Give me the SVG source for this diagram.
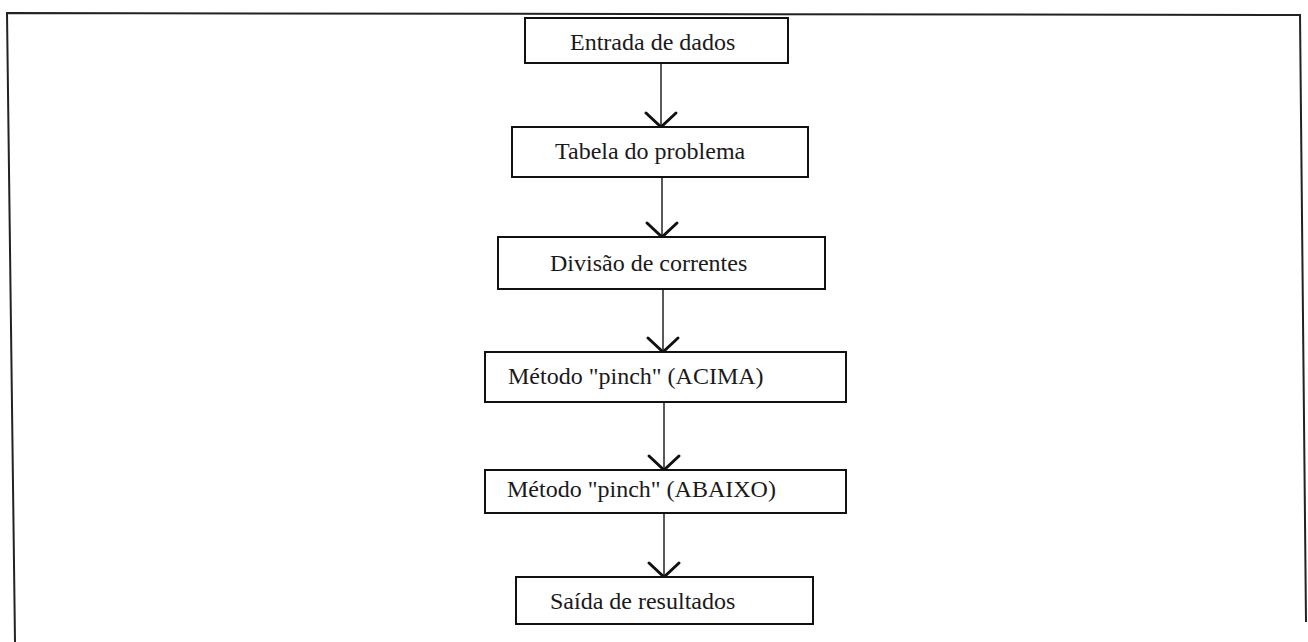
<svg xmlns="http://www.w3.org/2000/svg" width="1308" height="642" viewBox="0 0 1308 642">
<defs>
<style>
.box{fill:#fff;stroke:#111;stroke-width:2}
.lbl{font-family:"Liberation Serif","Times New Roman",serif;font-size:24px;fill:#1a1a1a}
.frame{fill:none;stroke:#222;stroke-width:2}
.conn{stroke:#222;stroke-width:1.5;fill:none}
.head{stroke:#111;stroke-width:3;fill:none;stroke-linecap:round}
</style>
</defs>
<rect width="1308" height="642" fill="#fff"/>
<path class="frame" d="M15 642 L7 13 L1300 15 L1306 622"/>
<g id="connectors">
<line class="conn" x1="661" y1="63" x2="661" y2="127"/>
<polyline class="head" points="646,113 661,127 676,113"/>
<line class="conn" x1="662" y1="177" x2="662" y2="237"/>
<polyline class="head" points="647,223 662,237 677,223"/>
<line class="conn" x1="663" y1="289" x2="663" y2="352"/>
<polyline class="head" points="648,338 663,352 678,338"/>
<line class="conn" x1="664" y1="402" x2="664" y2="470"/>
<polyline class="head" points="649,456 664,470 679,456"/>
<line class="conn" x1="664" y1="513" x2="664" y2="577"/>
<polyline class="head" points="649,563 664,577 679,563"/>
</g>
<g id="n1"><rect class="box" x="525" y="18" width="263" height="45"/><text class="lbl" x="570" y="50">Entrada de dados</text></g>
<g id="n2"><rect class="box" x="512" y="127" width="296" height="50"/><text class="lbl" x="555" y="159">Tabela do problema</text></g>
<g id="n3"><rect class="box" x="498" y="237" width="327" height="52"/><text class="lbl" x="550" y="271">Divisão de correntes</text></g>
<g id="n4"><rect class="box" x="485" y="352" width="361" height="50"/><text class="lbl" x="508" y="384">Método "pinch" (ACIMA)</text></g>
<g id="n5"><rect class="box" x="485" y="470" width="361" height="43"/><text class="lbl" x="507" y="497">Método "pinch" (ABAIXO)</text></g>
<g id="n6"><rect class="box" x="516" y="577" width="297" height="47"/><text class="lbl" x="550" y="609">Saída de resultados</text></g>
</svg>
